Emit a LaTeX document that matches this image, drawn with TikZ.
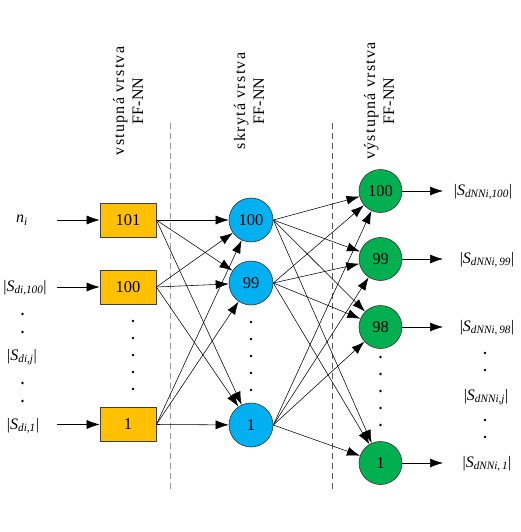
\documentclass[tikz,border=0pt]{standalone}
\usepackage{fontspec}
\setmainfont{Liberation Serif}
\newfontfamily\ttlspaced[LetterSpace=8]{Liberation Serif}
\usetikzlibrary{arrows.meta}
\definecolor{boxor}{HTML}{FFC000}
\definecolor{hidblue}{HTML}{00B0F0}
\definecolor{outgreen}{HTML}{00B050}
\begin{document}
\begin{tikzpicture}[x=1pt,y=-1pt,
  numfont/.style={font=\fontsize{16.5}{19}\selectfont},
  inbox/.style={draw=black!75, line width=0.7pt, fill=boxor, minimum width=56pt, minimum height=34pt, inner sep=0pt, numfont},
  hid/.style={circle, draw=black!80, line width=0.6pt, fill=hidblue, minimum size=44pt, inner sep=0pt, numfont},
  outn/.style={circle, draw=black!80, line width=0.6pt, fill=outgreen, minimum size=43pt, inner sep=0pt, numfont},
  arr/.style={-{Latex[length=13pt,width=9pt]}, line width=0.55pt},
  lab/.style={font=\fontsize{16}{19}\selectfont, inner sep=0pt},
  ttl/.style={rotate=90, align=center, font=\fontsize{16}{19}\selectfont},
  sep/.style={line width=0.8pt, dash pattern=on 6pt off 4pt},
  dotn/.style={circle, fill=black, inner sep=0pt, minimum size=2.6pt}
]
\useasboundingbox (0,0) rectangle (520,532);

% separators
\draw[sep, black!40] (170,123) -- (170,492);
\draw[sep, black!65] (332,123) -- (332,492);

% titles
\node[ttl] (t1) at (128,101) {{\ttlspaced vstupná vrstva}\\FF-NN};
\node[ttl] (t2) at (249,101) {{\ttlspaced skrytá vrstva}\\FF-NN};
\node[ttl] (t3) at (379,101) {{\ttlspaced výstupná vrstva}\\FF-NN};

% input layer
\node[inbox] (i101) at (128,220) {101};
\node[inbox] (i100) at (128,287) {100};
\node[inbox] (i1) at (128,424.5) {1};
\foreach \y [count=\k] in {321,338,355,372,389}
  \node[dotn] (idot\k) at (133,\y) {};

% hidden layer
\node[hid] (h100) at (251,220) {100};
\node[hid] (h99) at (251,283) {99};
\node[hid] (h1) at (251,425) {1};
\foreach \y [count=\k] in {322,339,356,373,390}
  \node[dotn] (hdot\k) at (251,\y) {};

% output layer
\node[outn] (o100) at (380.5,191) {100};
\node[outn] (o99) at (380.5,259) {99};
\node[outn] (o98) at (380.5,327) {98};
\node[outn] (o1) at (380.5,463) {1};
\foreach \y [count=\k] in {357,374,391,408,425}
  \node[dotn] (odot\k) at (380.5,\y) {};

% input labels
\node[lab] (ln) at (22,220) {\textit{n}\textsubscript{\textit{i}}};
\node[lab] (l100) at (25,288) {|\textit{S}\textsubscript{\textit{di,100}}|};
\node[lab] (lj) at (22,357) {|\textit{S}\textsubscript{\textit{di,j}}|};
\node[lab] (l1) at (23,426) {|\textit{S}\textsubscript{\textit{di,1}}|};
\foreach \y [count=\k] in {314,332,383,401}
  \node[dotn] (ldot\k) at (22.5,\y) {};

\coordinate (a101) at (57,220);
\coordinate (a100) at (57,287);
\coordinate (a1) at (57,424.5);
\draw[arr] (a101) -- (i101);
\draw[arr] (a100) -- (i100);
\draw[arr] (a1) -- (i1);

% input -> hidden
\foreach \s in {i101,i100,i1}
  \foreach \t in {h100,h99,h1}
    \draw[arr] (\s.east) -- (\t);

% hidden -> output
\foreach \s in {h100,h99,h1}
  \foreach \t in {o100,o99,o98,o1}
    \draw[arr] (\s.east) -- (\t);

% output arrows and labels
\coordinate (b100) at (443,191);
\coordinate (b99) at (443,259);
\coordinate (b98) at (443,327);
\coordinate (b1) at (443,463);
\draw[arr] (o100) -- (b100);
\draw[arr] (o99) -- (b99);
\draw[arr] (o98) -- (b98);
\draw[arr] (o1) -- (b1);

\node[lab] (r100) at (483,192) {|\textit{S}\textsubscript{\textit{dNNi,100}}|};
\node[lab] (r99) at (487,260) {|\textit{S}\textsubscript{\textit{dNNi,\,99}}|};
\node[lab] (r98) at (487,328) {|\textit{S}\textsubscript{\textit{dNNi,\,98}}|};
\node[lab] (rj) at (486,397) {|\textit{S}\textsubscript{\textit{dNNi,j}}|};
\node[lab] (r1) at (487,464) {|\textit{S}\textsubscript{\textit{dNNi,\,1}}|};
\foreach \y [count=\k] in {353,370,420,437}
  \node[dotn] (rdot\k) at (485,\y) {};
\end{tikzpicture}
\end{document}
